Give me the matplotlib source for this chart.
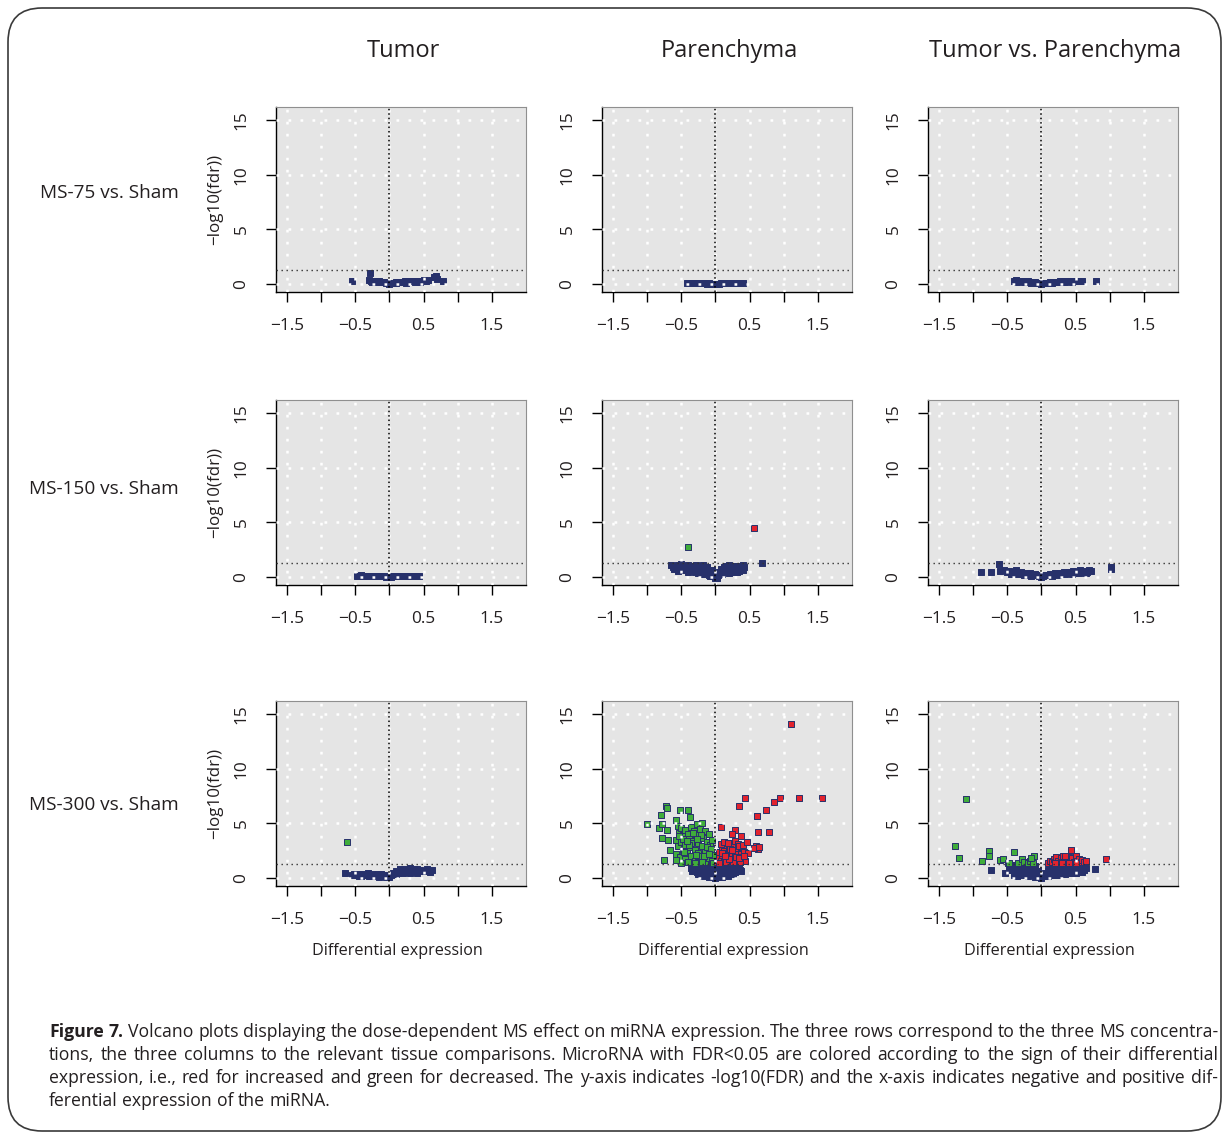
import matplotlib
matplotlib.use('Agg')
import matplotlib.pyplot as plt
from matplotlib.patches import FancyBboxPatch
from matplotlib.transforms import IdentityTransform

# ---------------- data ----------------
col_titles = ['Tumor', 'Parenchyma', 'Tumor vs. Parenchyma']
row_labels = ['MS-75 vs. Sham', 'MS-150 vs. Sham', 'MS-300 vs. Sham']
xtick_vals = [-1.5, -1, -0.5, 0, 0.5, 1, 1.5]
xtick_labels = ['\u22121.5', '', '\u22120.5', '', '0.5', '', '1.5']
ytick_vals = [0, 5, 10, 15]
ytick_labels = ['0', '5', '10', '15']
fdr_line = 1.3
xlabel = 'Differential expression'
ylabel = '\u2212log10(fdr))'

# Row 1: MS-75
t75_nx = [-0.55, -0.28, -0.3, -0.27, -0.22, -0.18, -0.15, -0.12, -0.1, -0.08, -0.05, -0.03, 0.0, 0.02, 0.05,
          0.08, 0.1, 0.13, 0.16, 0.2, 0.23, 0.26, 0.3, 0.33, 0.36, 0.4, 0.43, 0.46, 0.5, 0.53, 0.56, 0.65,
          0.68, 0.7, 0.78, -0.2, 0.0, 0.1, 0.25, 0.45, -0.26, 0.38]
t75_ny = [0.25, 1.0, 0.35, 0.3, 0.32, 0.28, 0.25, 0.22, 0.2, 0.15, 0.1, 0.05, 0.02, 0.05, 0.08,
          0.12, 0.15, 0.18, 0.2, 0.22, 0.25, 0.27, 0.28, 0.3, 0.3, 0.3, 0.32, 0.3, 0.35, 0.3, 0.33, 0.6,
          0.75, 0.5, 0.3, 0.2, 0.1, 0.05, 0.12, 0.15, 0.2, 0.22]
p75_nx = [-0.42, -0.35, -0.32, -0.3, -0.27, -0.25, -0.22, -0.2, -0.17, -0.15, -0.12, -0.1, -0.07, -0.05, -0.02,
          0.0, 0.03, 0.05, 0.08, 0.1, 0.13, 0.15, 0.18, 0.2, 0.23, 0.25, 0.28, 0.3, 0.33, 0.36, 0.4]
p75_ny = [0.05, 0.1, 0.05, 0.12, 0.08, 0.1, 0.05, 0.1, 0.06, 0.08, 0.04, 0.06, 0.03, 0.04, 0.02,
          0.0, 0.02, 0.04, 0.05, 0.06, 0.08, 0.05, 0.1, 0.07, 0.1, 0.08, 0.12, 0.06, 0.1, 0.08, 0.05]
v75_nx = [-0.4, -0.37, -0.33, -0.3, -0.27, -0.23, -0.2, -0.17, -0.13, -0.1, -0.07, -0.03, 0.0, 0.03, 0.07,
          0.1, 0.13, 0.17, 0.2, 0.23, 0.27, 0.3, 0.33, 0.37, 0.4, 0.43, 0.47, 0.5, 0.53, 0.6, 0.8,
          -0.35, -0.25, -0.15, 0.15, 0.25, 0.35, 0.45]
v75_ny = [0.3, 0.35, 0.3, 0.25, 0.3, 0.22, 0.25, 0.2, 0.18, 0.15, 0.1, 0.05, 0.0, 0.05, 0.1,
          0.12, 0.15, 0.2, 0.18, 0.22, 0.25, 0.2, 0.28, 0.25, 0.3, 0.25, 0.3, 0.28, 0.3, 0.3, 0.3,
          0.2, 0.15, 0.1, 0.1, 0.15, 0.2, 0.2]

# Row 2: MS-150
t150_nx = [-0.48, -0.45, -0.42, -0.38, -0.35, -0.32, -0.28, -0.25, -0.22, -0.18, -0.15, -0.12, -0.08, -0.05,
           -0.02, 0.0, 0.03, 0.06, 0.1, 0.13, 0.16, 0.2, 0.23, 0.26, 0.3, 0.33, 0.36, 0.4, 0.44]
t150_ny = [0.12, 0.1, 0.14, 0.1, 0.12, 0.1, 0.13, 0.1, 0.11, 0.08, 0.1, 0.07, 0.06, 0.04,
           0.02, 0.0, 0.03, 0.05, 0.07, 0.08, 0.1, 0.09, 0.11, 0.1, 0.12, 0.1, 0.13, 0.11, 0.1]
p150_nx = [-0.65, -0.62, -0.6, -0.58, -0.55, -0.52, -0.5, -0.48, -0.45, -0.42, -0.4, -0.38, -0.35, -0.33,
           -0.3, -0.28, -0.25, -0.22, -0.2, -0.18, -0.15, -0.12, -0.1, -0.08, -0.05, -0.03, 0.0, 0.02, 0.04,
           0.07, 0.1, 0.12, 0.15, 0.18, 0.2, 0.22, 0.25, 0.28, 0.3, 0.33, 0.36, 0.4, 0.42, -0.5, -0.4, -0.3,
           -0.2, -0.1, 0.1, 0.2, 0.3, 0.4, -0.35, -0.25, -0.15, 0.15, 0.25, 0.35, 0.68,
           -0.6, -0.45, -0.32, -0.22, -0.12, -0.05, 0.05, 0.12, 0.22, 0.32, -0.55, -0.42, -0.28, -0.18,
           0.08, 0.18, 0.28, 0.38, -0.08, 0.03]
p150_ny = [1.1, 0.95, 1.05, 0.8, 1.1, 0.9, 1.15, 0.75, 1.0, 0.85, 1.1, 0.7, 1.05, 0.9,
           0.8, 1.1, 0.65, 1.0, 0.55, 0.9, 0.5, 0.7, 0.35, 0.5, 0.2, 0.1, -0.1, 0.0, 0.15,
           0.3, 0.5, 0.85, 1.0, 0.7, 1.1, 0.6, 0.9, 1.05, 0.75, 1.0, 0.85, 1.1, 0.9, 0.6, 0.5, 0.45,
           0.3, 0.2, 0.3, 0.4, 0.5, 0.6, 0.65, 0.4, 0.25, 0.55, 0.45, 0.55, 1.25,
           0.7, 0.75, 0.6, 0.8, 0.9, 0.6, 0.5, 0.9, 1.0, 0.5, 0.55, 0.6, 0.95, 1.1,
           0.75, 0.45, 0.6, 0.7, 0.1, -0.05]
p150_ux = [0.57]
p150_uy = [4.48]
p150_dx = [-0.40]
p150_dy = [2.77]
v150_nx = [-0.88, -0.74, -0.62, -0.6, -0.55, -0.5, -0.47, -0.43, -0.4, -0.37, -0.33, -0.3, -0.27, -0.23, -0.2,
           -0.17, -0.13, -0.1, -0.07, -0.04, 0.0, 0.03, 0.06, 0.1, 0.13, 0.16, 0.2, 0.23, 0.27, 0.3, 0.33,
           0.37, 0.4, 0.43, 0.47, 0.5, 0.53, 0.57, 0.6, 0.63, 0.67, 0.7, 0.73, 1.02, 1.02,
           -0.45, -0.35, -0.25, -0.15, 0.15, 0.25, 0.35, 0.45, 0.55, 0.65]
v150_ny = [0.45, 0.5, 1.15, 0.55, 0.6, 0.5, 0.55, 0.4, 0.5, 0.6, 0.35, 0.45, 0.3, 0.4, 0.25,
           0.35, 0.2, 0.3, 0.15, 0.1, 0.0, 0.05, 0.15, 0.2, 0.3, 0.25, 0.35, 0.3, 0.4, 0.35, 0.45,
           0.4, 0.5, 0.45, 0.55, 0.4, 0.5, 0.6, 0.45, 0.55, 0.5, 0.6, 0.55, 0.9, 0.7,
           0.3, 0.25, 0.2, 0.1, 0.1, 0.2, 0.25, 0.3, 0.35, 0.4]

# Row 3: MS-300
t300_nx = [-0.65, -0.55, -0.52, -0.48, -0.45, -0.42, -0.4, -0.37, -0.35, -0.32, -0.3, -0.27, -0.25, -0.22,
           -0.2, -0.17, -0.15, -0.12, -0.1, -0.07, -0.05, -0.02, 0.0, 0.03, 0.05, 0.08, 0.1, 0.13, 0.15, 0.18,
           0.2, 0.23, 0.25, 0.28, 0.3, 0.33, 0.35, 0.38, 0.4, 0.43, 0.45, 0.5, 0.55, 0.6, 0.63, -0.45, -0.3,
           -0.15, 0.1, 0.2, 0.3, 0.4]
t300_ny = [0.5, 0.3, 0.4, 0.25, 0.35, 0.2, 0.4, 0.3, 0.25, 0.45, 0.3, 0.2, 0.4, 0.3,
           0.15, 0.35, 0.25, 0.4, 0.2, 0.3, 0.1, 0.2, 0.05, 0.3, 0.5, 0.4, 0.65, 0.5, 0.8, 0.6,
           0.75, 0.55, 0.85, 0.7, 0.9, 0.6, 0.8, 0.7, 0.85, 0.6, 0.75, 0.65, 0.8, 0.55, 0.7, 0.15, 0.15,
           0.1, 0.35, 0.45, 0.5, 0.5]
t300_dx = [-0.62]
t300_dy = [3.32]

p300_nx = [-0.35, -0.34, -0.32, -0.3, -0.3, -0.28, -0.27, -0.25, -0.25, -0.23, -0.22, -0.2, -0.2, -0.18, -0.17,
           -0.15, -0.15, -0.13, -0.12, -0.1, -0.1, -0.08, -0.07, -0.05, -0.04, -0.02, 0.0, 0.0, 0.02, 0.04,
           0.05, 0.07, 0.08, 0.1, 0.1, 0.12, 0.13, 0.15, 0.15, 0.17, 0.18, 0.2, 0.2, 0.22, 0.23, 0.25, 0.25,
           0.27, 0.28, 0.3, 0.3, 0.32, 0.34, 0.36, 0.38,
           -0.3, -0.22, -0.14, -0.06, 0.06, 0.14, 0.22, 0.3, -0.26, -0.18, -0.1, 0.1, 0.18, 0.26]
p300_ny = [0.9, 0.6, 1.15, 0.7, 1.0, 1.2, 0.55, 0.85, 0.45, 1.1, 0.7, 0.4, 1.2, 0.9, 0.3,
           0.6, 1.1, 0.25, 0.8, 0.2, 1.15, 0.5, 0.15, 0.9, 0.1, 0.4, 0.0, 0.7, 0.1, 1.0,
           0.3, 0.15, 0.6, 0.25, 1.1, 0.5, 0.3, 0.85, 0.35, 1.2, 0.55, 0.4, 1.0, 0.7, 0.45, 1.15, 0.5,
           0.8, 0.55, 1.05, 0.65, 0.8, 0.9, 0.75, 0.6,
           1.25, 1.25, 1.2, 0.95, 1.1, 1.25, 1.25, 1.2, 0.35, 0.2, 0.05, 0.1, 0.2, 0.35]
p300_ux = [0.03, 0.05, 0.06, 0.08, 0.1, 0.1, 0.12, 0.13, 0.15, 0.15, 0.17, 0.18, 0.2, 0.2, 0.22, 0.23, 0.25,
           0.25, 0.27, 0.28, 0.3, 0.3, 0.32, 0.33, 0.35, 0.36, 0.38, 0.4, 0.42, 0.44, 0.08, 0.12, 0.18, 0.22,
           0.28, 0.34, 0.4, 0.05, 0.16, 0.26, 0.36, 0.1, 0.2, 0.3, 0.14, 0.24, 0.34,
           1.10, 0.43, 0.94, 1.23, 1.56, 0.86, 0.34, 0.74, 0.61, 0.08, 0.29, 0.25, 0.38, 0.62, 0.79, 0.46,
           0.60, 0.62, 0.57, 0.64, 0.48, 0.42]
p300_uy = [1.5, 1.9, 2.4, 1.6, 2.1, 2.8, 1.5, 2.5, 1.8, 3.0, 2.2, 1.4, 2.6, 1.9, 3.2, 1.6, 2.3,
           2.9, 1.7, 3.4, 2.0, 2.6, 1.5, 3.1, 2.2, 1.7, 2.8, 1.9, 2.4, 1.6, 3.1, 3.3, 3.2, 2.7,
           2.2, 2.9, 3.0, 1.4, 1.5, 1.45, 1.5, 2.3, 1.7, 1.9, 2.0, 2.6, 1.8,
           14.1, 7.3, 7.3, 7.3, 7.3, 7.0, 6.6, 6.2, 5.65, 4.65, 4.44, 4.04, 3.83, 4.22, 4.2, 3.34,
           2.9, 2.67, 2.75, 2.8, 2.3, 2.0]
p300_dx = [-0.58, -0.57, -0.55, -0.55, -0.53, -0.52, -0.5, -0.5, -0.48, -0.47, -0.45, -0.45, -0.43, -0.42,
           -0.4, -0.4, -0.38, -0.37, -0.35, -0.35, -0.33, -0.32, -0.3, -0.3, -0.28, -0.27, -0.25, -0.25,
           -0.23, -0.22, -0.2, -0.2, -0.18, -0.17, -0.15, -0.15, -0.13, -0.12, -0.1, -0.1, -0.08, -0.07,
           -0.05, -0.05, -0.04, -0.03, -0.5, -0.4, -0.3, -0.2, -0.45, -0.35, -0.25, -0.15,
           -0.54, -0.46, -0.38, -0.29, -0.21, -0.12, -0.06, -0.48, -0.33, -0.16, -0.09, -0.42, -0.27,
           -0.72, -0.71, -0.52, -0.40, -0.79, -0.37, -0.58, -1.0, -0.82, -0.78, -0.71, -0.69, -0.78,
           -0.67, -0.75, -0.58]
p300_dy = [2.2, 3.5, 4.8, 2.9, 4.1, 1.9, 3.3, 4.6, 2.6, 3.9, 1.7, 4.4, 3.1, 2.3,
           4.0, 1.5, 3.6, 2.8, 4.7, 2.0, 3.4, 4.3, 1.6, 2.6, 3.9, 4.9, 2.3, 3.2,
           1.4, 4.5, 2.9, 5.0, 3.7, 2.1, 4.3, 1.5, 3.3, 2.6, 4.0, 1.8, 3.0, 2.4,
           3.5, 1.6, 2.1, 1.4, 1.4, 1.45, 1.4, 1.5, 3.0, 3.2, 2.0, 2.4,
           3.8, 2.4, 3.0, 2.1, 3.9, 2.8, 2.7, 3.6, 4.1, 2.0, 2.2, 3.4, 3.6,
           6.57, 6.4, 6.2, 6.2, 5.74, 5.6, 5.35, 4.98, 4.6, 4.95, 4.4, 3.47, 3.62,
           2.6, 1.64, 1.67]

v300_nx = [-0.74, -0.53, -0.48, -0.45, -0.42, -0.4, -0.38, -0.35, -0.33, -0.3, -0.28, -0.25, -0.23, -0.2,
           -0.18, -0.15, -0.12, -0.1, -0.08, -0.05, -0.03, 0.0, 0.02, 0.05, 0.08, 0.1, 0.12, 0.15, 0.18,
           0.2, 0.22, 0.25, 0.28, 0.3, 0.33, 0.35, 0.38, 0.4, 0.43, 0.45, 0.48, 0.5, 0.53, 0.55, 0.58, 0.6,
           0.63, 0.65, 0.78, -0.4, -0.3, -0.2, -0.1, 0.1, 0.2, 0.3, 0.4, 0.5, 0.6, -0.35, -0.25, -0.15,
           0.15, 0.25, 0.35, 0.45]
v300_ny = [0.75, 0.5, 1.0, 0.7, 1.15, 0.5, 0.9, 1.2, 0.6, 1.0, 0.4, 0.85, 1.15, 0.5,
           0.9, 0.3, 0.7, 1.1, 0.35, 0.6, 0.2, 0.0, 0.3, 0.5, 0.2, 0.7, 0.4, 0.9, 0.5,
           1.1, 0.6, 0.9, 1.2, 0.7, 1.0, 0.55, 1.15, 0.8, 1.0, 0.65, 1.2, 0.9, 0.7, 1.05, 0.8, 1.1,
           0.75, 0.95, 0.8, 0.3, 0.25, 0.2, 0.1, 0.15, 0.25, 0.35, 0.45, 0.5, 0.55, 0.2, 0.35, 0.25,
           0.3, 0.3, 0.4, 0.45]
v300_ux = [0.1, 0.13, 0.15, 0.18, 0.2, 0.22, 0.25, 0.28, 0.3, 0.32, 0.35, 0.38, 0.4, 0.42, 0.45, 0.48, 0.5,
           0.52, 0.55, 0.58, 0.6, 0.63, 0.65, 0.2, 0.3, 0.4, 0.5, 0.35, 0.44, 0.94]
v300_uy = [1.4, 1.6, 1.5, 1.75, 1.45, 1.9, 1.6, 1.8, 1.5, 2.0, 1.7, 1.5, 1.9, 1.6, 1.8, 1.45, 2.0,
           1.6, 1.75, 1.5, 1.65, 1.45, 1.55, 1.35, 1.4, 1.35, 1.4, 2.05, 2.6, 1.7]
v300_dx = [-1.10, -1.26, -1.21, -0.77, -0.76, -0.87, -0.61, -0.56, -0.40, -0.49, -0.47, -0.34, -0.29, -0.26,
           -0.19, -0.17, -0.13, -0.11, -0.15]
v300_dy = [7.26, 2.95, 1.79, 2.43, 2.0, 1.55, 1.61, 1.7, 2.4, 1.37, 1.4, 1.35, 1.7, 1.45,
           1.35, 1.6, 1.4, 2.0, 1.8]

caption_lines = [
    'Figure 7. Volcano plots displaying the dose-dependent MS effect on miRNA expression. The three rows correspond to the three MS concentra-',
    'tions, the three columns to the relevant tissue comparisons. MicroRNA with FDR<0.05 are colored according to the sign of their differential',
    'expression, i.e., red for increased and green for decreased. The y-axis indicates -log10(FDR) and the x-axis indicates negative and positive dif-',
    'ferential expression of the miRNA.',
]

# panel grid: (navy x, navy y, up x, up y, down x, down y)
panels = [
    [(t75_nx, t75_ny, [], [], [], []), (p75_nx, p75_ny, [], [], [], []), (v75_nx, v75_ny, [], [], [], [])],
    [(t150_nx, t150_ny, [], [], [], []), (p150_nx, p150_ny, p150_ux, p150_uy, p150_dx, p150_dy),
     (v150_nx, v150_ny, [], [], [], [])],
    [(t300_nx, t300_ny, [], [], t300_dx, t300_dy), (p300_nx, p300_ny, p300_ux, p300_uy, p300_dx, p300_dy),
     (v300_nx, v300_ny, v300_ux, v300_uy, v300_dx, v300_dy)],
]

# ---------------- style / layout ----------------
W, H = 1226, 1139
FONT = 'Open Sans'
plt.rcParams['font.family'] = [FONT, 'DejaVu Sans']
NAVY = '#27316B'
GREEN = '#40AD3B'
RED = '#E2232E'
BG = '#E5E5E5'
TXT = '#231F20'
MS = 18

fig = plt.figure(figsize=(W / 100, H / 100), dpi=100)
fig.patch.set_facecolor('white')
renderer = fig.canvas.get_renderer()


def text_width(s, size, weight='normal'):
    t = fig.text(0, 0, s, fontsize=size, weight=weight)
    w = t.get_window_extent(renderer).width
    t.remove()
    return w


def fit_size(s, target, weight='normal'):
    return 20 * target / text_width(s, 20, weight)


def fx(px):
    return px / W


def fy(py):
    return 1 - py / H


col_left = [276, 602, 928]
row_top = [107, 400, 701]
PW, PH = 250, 185
XLIM = (-1.66, 2.0)
YLIM = (-0.73, 16.2)

tick_size = fit_size('\u22121.5', 34)
lab_size = fit_size('Differential expression', 170)

for r in range(3):
    for c in range(3):
        nx, ny, ux, uy, dx, dy = panels[r][c]
        l, t = col_left[c], row_top[r]
        ax = fig.add_axes([fx(l), fy(t + PH), PW / W, PH / H])
        ax.set_facecolor(BG)
        ax.set_xlim(*XLIM)
        ax.set_ylim(*YLIM)
        ax.scatter(nx, ny, marker='s', s=MS, facecolor=NAVY, edgecolor=NAVY, linewidths=0.7, zorder=2)
        if dx:
            ax.scatter(dx, dy, marker='s', s=MS, facecolor=GREEN, edgecolor=NAVY, linewidths=0.7, zorder=2.2)
        if ux:
            ax.scatter(ux, uy, marker='s', s=MS, facecolor=RED, edgecolor=NAVY, linewidths=0.7, zorder=2.2)
        for gx in xtick_vals:
            ax.axvline(gx, color='white', lw=1.8, ls=(0, (1.1, 3.7)), zorder=3)
        for gy in ytick_vals:
            ax.axhline(gy, color='white', lw=1.8, ls=(0, (1.1, 3.7)), zorder=3)
        ax.axvline(0, color='black', lw=1.1, ls=(0, (1, 1.9)), zorder=4)
        ax.axhline(fdr_line, color='#333333', lw=1.0, ls=(0, (1, 2.6)), zorder=4)
        ax.set_xticks(xtick_vals)
        ax.set_xticklabels(xtick_labels)
        ax.set_yticks(ytick_vals)
        ax.set_yticklabels(ytick_labels, rotation=90, va='center')
        ax.tick_params(axis='both', direction='out', length=7, width=1, color='black',
                       labelsize=tick_size, labelcolor=TXT)
        ax.tick_params(axis='x', pad=12)
        ax.tick_params(axis='y', pad=12)
        for sp in ['left', 'bottom']:
            ax.spines[sp].set_color('black')
            ax.spines[sp].set_linewidth(1.0)
        for sp in ['top', 'right']:
            ax.spines[sp].set_color('#8F8F8F')
            ax.spines[sp].set_linewidth(0.8)
        if c == 0:
            fig.text(fx(215), fy(t + PH / 2), ylabel, rotation=90, ha='center', va='center',
                     fontsize=lab_size * 1.05, color=TXT)
        if r == 2:
            fig.text(fx(l + PW / 2 - 4), fy(951), xlabel, ha='center', va='center',
                     fontsize=lab_size, color=TXT)

# column titles
title_size = fit_size('Tumor vs. Parenchyma', 252)
for c, s in enumerate(col_titles):
    fig.text(fx(col_left[c] + PW / 2 + 2), fy(51), s, ha='center', va='center', fontsize=title_size, color=TXT)

# row labels
row_size = fit_size('MS-75 vs. Sham', 139)
for r, (s, yy) in enumerate(zip(row_labels, [193, 489, 805])):
    fig.text(fx(179), fy(yy), s, ha='right', va='center', fontsize=row_size, color=TXT)

# caption (justified): size chosen so the full lines nearly fill the text block
x0, x1 = 49, 1218
nat = [text_width(caption_lines[i], 20) for i in range(3)]
cap_size = 20 * (x1 - x0 - 8) / max(nat)
baselines = [1037, 1060, 1083, 1106]
space_w = text_width('x x', cap_size) - text_width('xx', cap_size)
for i, line in enumerate(caption_lines):
    words = line.split(' ')
    weights = ['normal'] * len(words)
    if i == 0:
        weights[0] = 'bold'
        weights[1] = 'bold'
    widths = [text_width(w, cap_size, wt) for w, wt in zip(words, weights)]
    if i < 3:
        gap = (x1 - x0 - sum(widths)) / (len(words) - 1)
    else:
        gap = space_w
    xp = x0
    for w, wt, ww in zip(words, weights, widths):
        fig.text(fx(xp), fy(baselines[i]), w, ha='left', va='baseline', fontsize=cap_size,
                 weight=wt, color=TXT)
        xp += ww + gap

# rounded frame
frame = FancyBboxPatch((8, H - 1131), 1213, 1123, boxstyle='round,pad=0,rounding_size=34',
                       transform=IdentityTransform(), fill=False, lw=1.2, ec='#3A3A3A')
fig.add_artist(frame)

fig.savefig('out.png', dpi=100)
